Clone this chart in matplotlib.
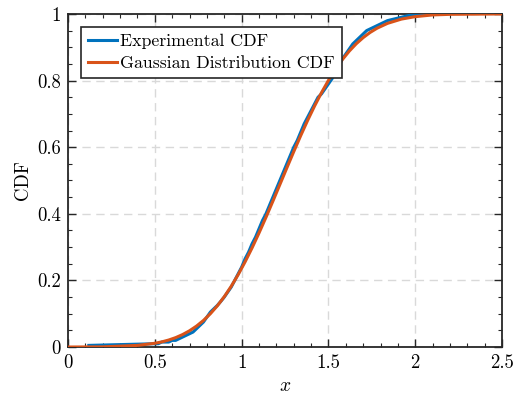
import matplotlib
matplotlib.use('Agg')
import matplotlib.pyplot as plt
from matplotlib.ticker import MultipleLocator, FuncFormatter

exp_x = [0.12,
         0.50, 0.52, 0.54, 0.56, 0.58, 0.60, 0.62, 0.64, 0.66, 0.68,
         0.70, 0.72, 0.74, 0.76, 0.78, 0.80, 0.82, 0.84, 0.86, 0.88,
         0.90, 0.92, 0.94, 0.96, 0.98, 1.00, 1.02, 1.04, 1.06, 1.08,
         1.10, 1.12, 1.14, 1.16, 1.18, 1.20, 1.22, 1.24, 1.26, 1.28,
         1.30, 1.32, 1.34, 1.36, 1.38, 1.40, 1.42, 1.44, 1.46, 1.48,
         1.50, 1.52, 1.54, 1.56, 1.58, 1.60, 1.62, 1.64, 1.66, 1.68,
         1.70, 1.72, 1.74, 1.76, 1.78, 1.80,
         1.84, 1.88, 1.92, 1.96, 2.02, 2.10]
exp_F = [0.005,
         0.010, 0.010, 0.015, 0.015, 0.015, 0.020, 0.020, 0.025, 0.030, 0.035,
         0.040, 0.045, 0.055, 0.065, 0.075, 0.090, 0.105, 0.115, 0.125, 0.137,
         0.150, 0.165, 0.180, 0.200, 0.220, 0.240, 0.265, 0.285, 0.310, 0.330,
         0.355, 0.380, 0.400, 0.425, 0.450, 0.475, 0.500, 0.525, 0.550, 0.575,
         0.600, 0.620, 0.645, 0.670, 0.690, 0.710, 0.730, 0.750, 0.760, 0.775,
         0.790, 0.805, 0.825, 0.845, 0.865, 0.880, 0.895, 0.910, 0.920, 0.930,
         0.940, 0.950, 0.955, 0.960, 0.965, 0.970,
         0.980, 0.985, 0.990, 0.995, 1.000, 1.000]

# fitted gaussian CDF
gauss_x = [0.0, 0.2, 0.4, 0.5, 0.54, 0.58, 0.62, 0.66, 0.70, 0.74, 0.78,
           0.82, 0.86, 0.90, 0.94, 0.98, 1.02, 1.06, 1.10, 1.14, 1.18,
           1.22, 1.26, 1.30, 1.34, 1.38, 1.42, 1.46, 1.50, 1.54, 1.58,
           1.62, 1.66, 1.70, 1.74, 1.78, 1.84, 1.92, 2.0, 2.1, 2.2, 2.5]
gauss_F = [0.0001, 0.0006, 0.005, 0.0113, 0.0155, 0.0211, 0.0283, 0.0375,
           0.0489, 0.0629, 0.0798, 0.1001, 0.1238, 0.1512, 0.1824, 0.2173,
           0.2559, 0.2977, 0.3424, 0.3893, 0.4380, 0.4876, 0.5374, 0.5866,
           0.6345, 0.6804, 0.7236, 0.7638, 0.8006, 0.8336, 0.8630, 0.8885,
           0.9105, 0.9290, 0.9445, 0.9572, 0.9717, 0.9845, 0.9919, 0.997,
           0.9988, 1.0]

plt.rcParams['font.family'] = 'serif'
plt.rcParams['font.serif'] = ['cmr10']
plt.rcParams['mathtext.fontset'] = 'cm'
plt.rcParams['axes.formatter.use_mathtext'] = True
plt.rcParams['font.size'] = 13.5

fig = plt.figure(figsize=(5.15, 3.98), dpi=100)
ax = fig.add_axes([0.132, 0.128, 0.843, 0.837])

ax.plot(exp_x, exp_F, color='#0072BD', lw=2.2,
        label='Experimental CDF', zorder=3)
ax.plot(gauss_x, gauss_F, color='#D95319', lw=2.2,
        label='Gaussian Distribution CDF', zorder=4)

ax.set_xlim(0, 2.5)
ax.set_ylim(0, 1)
ax.xaxis.set_major_locator(MultipleLocator(0.5))
ax.xaxis.set_minor_locator(MultipleLocator(0.1))
ax.yaxis.set_major_locator(MultipleLocator(0.2))
ax.yaxis.set_minor_locator(MultipleLocator(0.05))
fmt = FuncFormatter(lambda v, p: '%g' % round(v, 2))
ax.xaxis.set_major_formatter(fmt)
ax.yaxis.set_major_formatter(fmt)
ax.tick_params(which='both', direction='in', top=True, right=True,
               color='#262626')
ax.tick_params(which='major', length=6, width=1, pad=5)
ax.tick_params(which='minor', length=3, width=0.8)
for s in ax.spines.values():
    s.set_linewidth(1.3)
    s.set_color('#262626')
ax.grid(True, which='major', color='#d9d9d9', lw=1, linestyle=(0, (6, 4)))
ax.set_axisbelow(True)

ax.set_xlabel('$x$', fontsize=14)
ax.set_ylabel('CDF', fontsize=13.5)

leg = ax.legend(loc='upper left', bbox_to_anchor=(0.030, 0.961),
                fontsize=12.8, fancybox=False, framealpha=1,
                edgecolor='#262626', handlelength=1.6, handletextpad=0.2,
                borderpad=0.4, labelspacing=0.35, borderaxespad=0)
leg.get_frame().set_linewidth(1.2)

fig.savefig('out.png', dpi=100)
